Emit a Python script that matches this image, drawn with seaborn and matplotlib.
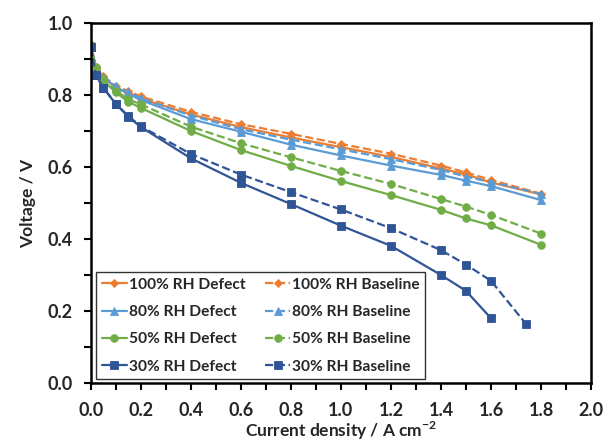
import matplotlib
matplotlib.use("Agg")
import matplotlib.pyplot as plt
from matplotlib.ticker import MultipleLocator, FormatStrFormatter
import numpy as np
import pandas as pd
import seaborn as sns

# Current density (A cm^-2)
j_full = [0.0, 0.02, 0.05, 0.1, 0.15, 0.2, 0.4, 0.6, 0.8, 1.0, 1.2, 1.4, 1.5, 1.6, 1.8]
j_30_defect = [0.0, 0.02, 0.05, 0.1, 0.15, 0.2, 0.4, 0.6, 0.8, 1.0, 1.2, 1.4, 1.5, 1.6]
j_30_base = [0.0, 0.02, 0.05, 0.1, 0.15, 0.2, 0.4, 0.6, 0.8, 1.0, 1.2, 1.4, 1.5, 1.6, 1.74]

# Cell voltage (V)
v_100_defect = [0.94, 0.870, 0.850, 0.820, 0.805, 0.790, 0.746, 0.711, 0.682, 0.655, 0.628, 0.596, 0.579, 0.557, 0.524]
v_100_base = [0.94, 0.875, 0.852, 0.825, 0.811, 0.796, 0.753, 0.719, 0.692, 0.664, 0.637, 0.604, 0.585, 0.564, 0.526]
v_80_defect = [0.94, 0.870, 0.848, 0.822, 0.803, 0.786, 0.733, 0.698, 0.662, 0.632, 0.604, 0.578, 0.562, 0.547, 0.508]
v_80_base = [0.94, 0.872, 0.851, 0.825, 0.807, 0.791, 0.743, 0.705, 0.676, 0.649, 0.622, 0.592, 0.573, 0.558, 0.525]
v_50_defect = [0.94, 0.876, 0.840, 0.807, 0.781, 0.764, 0.700, 0.647, 0.603, 0.561, 0.522, 0.481, 0.457, 0.438, 0.384]
v_50_base = [0.94, 0.878, 0.845, 0.812, 0.788, 0.774, 0.712, 0.666, 0.627, 0.589, 0.553, 0.511, 0.490, 0.467, 0.415]
v_30_defect = [0.934, 0.856, 0.819, 0.775, 0.739, 0.711, 0.624, 0.556, 0.497, 0.437, 0.381, 0.300, 0.256, 0.180]
v_30_base = [0.934, 0.856, 0.820, 0.776, 0.741, 0.713, 0.636, 0.579, 0.530, 0.482, 0.430, 0.369, 0.329, 0.284, 0.164]

labels = ["100% RH Defect", "80% RH Defect", "50% RH Defect", "30% RH Defect",
          "100% RH Baseline", "80% RH Baseline", "50% RH Baseline", "30% RH Baseline"]
xs = [j_full, j_full, j_full, j_30_defect, j_full, j_full, j_full, j_30_base]
ys = [v_100_defect, v_80_defect, v_50_defect, v_30_defect,
      v_100_base, v_80_base, v_50_base, v_30_base]

colors = ["#ED7D31", "#5B9BD5", "#70AD47", "#2F5597"] * 2
markers = ["D", "^", "o", "s"] * 2
msizes = [4, 6, 5.5, 5.5] * 2
styles = ["-"] * 4 + ["--"] * 4

sns.set_style("ticks")
plt.rcParams["font.family"] = ["Lato", "DejaVu Sans"]
plt.rcParams["font.weight"] = "bold"
plt.rcParams["mathtext.fontset"] = "custom"
plt.rcParams["mathtext.bf"] = "Lato:bold"
plt.rcParams["mathtext.rm"] = "Lato:bold"

fig = plt.figure(figsize=(6.14, 4.42), dpi=100)
ax = fig.add_axes([0.148, 0.1335, 0.8145, 0.8145])

for x, y, lab, c, m, ms, ls in zip(xs, ys, labels, colors, markers, msizes, styles):
    df = pd.DataFrame({"j": x, "v": y})
    sns.lineplot(data=df, x="j", y="v", ax=ax, color=c, marker=m, markersize=ms,
                 markeredgecolor=c, markeredgewidth=0.6, linestyle=ls,
                 linewidth=1.6, label=lab, sort=False, estimator=None)

ax.set_xlim(0, 2.0)
ax.set_ylim(0, 1.0)
ax.xaxis.set_major_locator(MultipleLocator(0.2))
ax.xaxis.set_minor_locator(MultipleLocator(0.1))
ax.yaxis.set_major_locator(MultipleLocator(0.2))
ax.yaxis.set_minor_locator(MultipleLocator(0.1))
ax.xaxis.set_major_formatter(FormatStrFormatter("%.1f"))
ax.yaxis.set_major_formatter(FormatStrFormatter("%.1f"))
ax.tick_params(which="both", direction="out", length=5, width=1.5, color="black")
ax.tick_params(axis="x", which="major", labelsize=13, pad=9)
ax.tick_params(axis="y", which="major", labelsize=13, pad=8)
for lbl in ax.get_xticklabels() + ax.get_yticklabels():
    lbl.set_fontweight("bold")
for side in ["top", "right", "bottom", "left"]:
    ax.spines[side].set_visible(True)
    ax.spines[side].set_linewidth(1.8)
    ax.spines[side].set_color("black")

ax.set_xlabel("Current density / A cm$^{-2}$", fontsize=12.5, fontweight="bold", labelpad=0)
ax.set_ylabel("Voltage / V", fontsize=12.5, fontweight="bold", labelpad=8)

leg = ax.legend(ncol=2, loc="lower left", bbox_to_anchor=(0.011, 0.011),
                borderaxespad=0.0, frameon=True, fancybox=False, edgecolor="black",
                prop={"weight": "bold", "size": 11.2},
                handlelength=1.6, handletextpad=0.15, columnspacing=1.25,
                labelspacing=0.85, borderpad=0.35)
leg.get_frame().set_linewidth(1.0)

fig.savefig("out.png", dpi=100)
